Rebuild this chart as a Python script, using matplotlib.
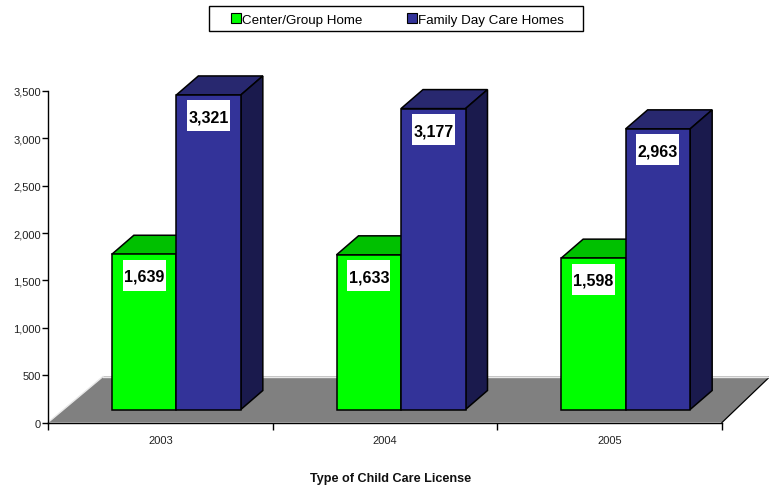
import matplotlib
matplotlib.use("Agg")
import matplotlib.pyplot as plt
from matplotlib.patches import Patch, Polygon, Rectangle

plt.rcParams["font.family"] = ["Liberation Sans", "DejaVu Sans"]

# data
years = ["2003", "2004", "2005"]
center_group = [1639, 1633, 1598]
family_day = [3321, 3177, 2963]
y_ticks = [0, 500, 1000, 1500, 2000, 2500, 3000, 3500]
series_names = ["Center/Group Home", "Family Day Care Homes"]

W, H = 769, 489
fig = plt.figure(figsize=(W / 100, H / 100), dpi=100)
ax = fig.add_axes([48 / W, 1 - 423.5 / H, 674 / W, 331.5 / H])
ax.set_xlim(0, 3)
ax.set_ylim(0, 3500)

# one pixel in data units
px_x = 3 / 674
px_y = 3500 / 331.5

# floor of the fake 3d box
floor = Polygon(
    [(0, 0), (3, 0), (3 + 48 * px_x, 46 * px_y), (55 * px_x, 46 * px_y)],
    closed=True, facecolor="#808080", edgecolor="none", clip_on=False, zorder=1,
)
ax.add_patch(floor)
ax.plot([0, 55 * px_x], [0, 46 * px_y], color="#e8e8e8", lw=1, clip_on=False, zorder=1.5)
ax.plot([3, 3 + 48 * px_x], [0, 46 * px_y], color="black", lw=0.9, clip_on=False, zorder=1.5)
ax.plot([55 * px_x, 3 + 48 * px_x], [46 * px_y, 46 * px_y], color="#e8e8e8", lw=1, clip_on=False, zorder=1.5)

bar_w = 64.5 * px_x
base = 13 * px_y
depth_x = 22 * px_x
depth_y = 19 * px_y
edge_lw = 1.1


def draw_bar(x_left, value, face, top, side, z):
    y0 = base
    y1 = base + value
    x1 = x_left + bar_w
    ax.bar(x_left, value, width=bar_w, bottom=y0, align="edge", color=face,
           edgecolor="black", linewidth=edge_lw, clip_on=False, zorder=z + 0.2)
    ax.add_patch(Polygon(
        [(x_left, y1), (x1, y1), (x1 + depth_x, y1 + depth_y), (x_left + depth_x, y1 + depth_y)],
        closed=True, facecolor=top, edgecolor="black", linewidth=edge_lw, clip_on=False, zorder=z + 0.1,
    ))
    ax.add_patch(Polygon(
        [(x1, y0), (x1 + depth_x, y0 + depth_y), (x1 + depth_x, y1 + depth_y), (x1, y1)],
        closed=True, facecolor=side, edgecolor="black", linewidth=edge_lw, clip_on=False, zorder=z + 0.1,
    ))
    # white label box, fixed size
    xc = x_left + bar_w / 2
    yc = y1 - 21 * px_y
    ax.add_patch(Rectangle((xc - 21.5 * px_x, yc - 15.5 * px_y), 43 * px_x, 31 * px_y,
                           facecolor="white", edgecolor="none", zorder=z + 0.4))
    ax.text(xc, yc - 1 * px_y, f"{value:,}", ha="center", va="center",
            fontsize=11.5, fontweight="bold", color="black", zorder=z + 0.5)


for i in range(len(years)):
    mid = i + 0.5 + 16 * px_x
    draw_bar(mid - bar_w, center_group[i], "#00FF00", "#00C000", "#008000", 2)
    draw_bar(mid, family_day[i], "#333399", "#28286F", "#1A1A4D", 3)

# axes
for s in ["top", "right"]:
    ax.spines[s].set_visible(False)
ax.spines["left"].set_linewidth(1)
ax.spines["bottom"].set_linewidth(1)
ax.spines["left"].set_zorder(5)
ax.spines["bottom"].set_zorder(5)
ax.set_yticks(y_ticks)
ax.set_yticklabels([f"{t:,}" for t in y_ticks], fontsize=8, color="#222222")
ax.set_xticks([0, 1, 2, 3])
ax.set_xticklabels([])
ax.set_xticks([0.5, 1.5, 2.5], labels=years, minor=True, fontsize=8, color="#222222")
ax.tick_params(axis="x", which="major", length=5, width=1, direction="out")
ax.tick_params(axis="x", which="minor", length=0, pad=9.2)
ax.tick_params(axis="y", length=4.5, width=1, pad=0.5)

fig.text(391 / W, 1 - 479.5 / H, "Type of Child Care License", ha="center", va="center",
         fontsize=9.1, fontweight="bold", color="#111111")

# legend frame drawn on its own so the side padding can differ from the top
fig.add_artist(Rectangle((209 / W, 1 - 32 / H), 374 / W, 25 / H, transform=fig.transFigure,
                         facecolor="white", edgecolor="black", linewidth=1))
handles = [
    Patch(facecolor="#00FF00", edgecolor="black", linewidth=0.8),
    Patch(facecolor="#333399", edgecolor="black", linewidth=0.8),
]
fig.legend(handles, series_names, loc="center", bbox_to_anchor=(397.5 / W, 1 - 20.5 / H), ncol=2,
           fontsize=9.6, frameon=False,
           handlelength=0.75, handleheight=0.75, handletextpad=0.12, columnspacing=3.3,
           borderpad=0, borderaxespad=0)

fig.savefig("out.png", dpi=100)
